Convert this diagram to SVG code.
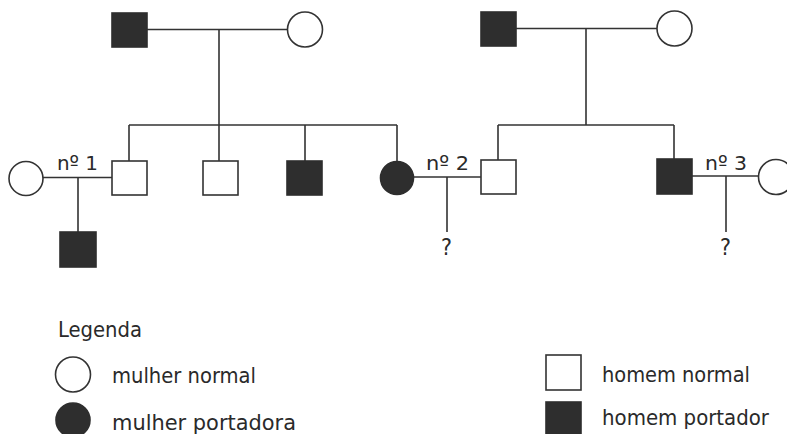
<svg xmlns="http://www.w3.org/2000/svg" width="787" height="434" viewBox="0 0 787 434">
<style>
.ln{stroke:#333;stroke-width:1.6;fill:none}
.open{fill:#fff;stroke:#333;stroke-width:1.6}
.fill{fill:#2e2e2e;stroke:#2e2e2e;stroke-width:1.6}
.t{font-family:"DejaVu Sans Condensed","DejaVu Sans",sans-serif;fill:#2a2a2a}
.lab{font-size:20px}
.q{font-size:23px}
.leg{font-size:22px}
</style>
<rect width="787" height="434" fill="#fff"/>
<g id="connectors">
<path class="ln" d="M147 29.5H287M219 29.5V125M129 125H397M129 125V161M219 125V161M305 125V161M397 125V161"/>
<path class="ln" d="M516 28.5H657M586 28.5V125M498 125H674M498 125V160M674 125V159"/>
<path class="ln" d="M43 177.5H112M78 177.5V232"/>
<path class="ln" d="M414 177H481M447 177V232"/>
<path class="ln" d="M692 176H759M726 176V232"/>
</g>
<g id="gf1"><rect class="fill" x="112" y="13" width="35" height="34"/></g>
<g id="gm1"><circle class="open" cx="305" cy="29.5" r="17.5"/></g>
<g id="gf2"><rect class="fill" x="481" y="12" width="35" height="34"/></g>
<g id="gm2"><circle class="open" cx="674.5" cy="28.5" r="17.5"/></g>
<g id="wife1"><circle class="open" cx="26" cy="178.5" r="17"/></g>
<g id="son1"><rect class="open" x="112" y="161" width="35" height="34"/></g>
<g id="son2"><rect class="open" x="203" y="161" width="35" height="34"/></g>
<g id="son3"><rect class="fill" x="287" y="161" width="35" height="34"/></g>
<g id="daughter"><circle class="fill" cx="397" cy="178" r="16.5"/></g>
<g id="husband2"><rect class="open" x="481" y="160" width="35" height="34"/></g>
<g id="son4"><rect class="fill" x="657" y="159" width="35" height="35"/></g>
<g id="wife3"><circle class="open" cx="776" cy="177" r="17.5"/></g>
<g id="grandson"><rect class="fill" x="60" y="232" width="36" height="35"/></g>
<g id="q2"><text class="t q" x="446.5" y="255" text-anchor="middle">?</text></g>
<g id="q3"><text class="t q" x="725.5" y="255" text-anchor="middle">?</text></g>
<text class="t lab" x="57" y="170" textLength="41" lengthAdjust="spacingAndGlyphs">nº 1</text>
<text class="t lab" x="426" y="170" textLength="43" lengthAdjust="spacingAndGlyphs">nº 2</text>
<text class="t lab" x="705" y="170" textLength="42" lengthAdjust="spacingAndGlyphs">nº 3</text>
<g id="legend">
<text class="t leg" x="58" y="337" textLength="84" lengthAdjust="spacingAndGlyphs">Legenda</text>
<circle class="open" cx="73" cy="374.5" r="17.5"/>
<text class="t leg" x="112" y="383" textLength="144" lengthAdjust="spacingAndGlyphs">mulher normal</text>
<circle class="fill" cx="73" cy="420" r="17"/>
<text class="t leg" x="112" y="430" textLength="184" lengthAdjust="spacingAndGlyphs">mulher portadora</text>
<rect class="open" x="546" y="355" width="35" height="35"/>
<text class="t leg" x="602" y="382" textLength="148" lengthAdjust="spacingAndGlyphs">homem normal</text>
<rect class="fill" x="546" y="402" width="35" height="35"/>
<text class="t leg" x="602" y="425" textLength="167" lengthAdjust="spacingAndGlyphs">homem portador</text>
</g>
</svg>
